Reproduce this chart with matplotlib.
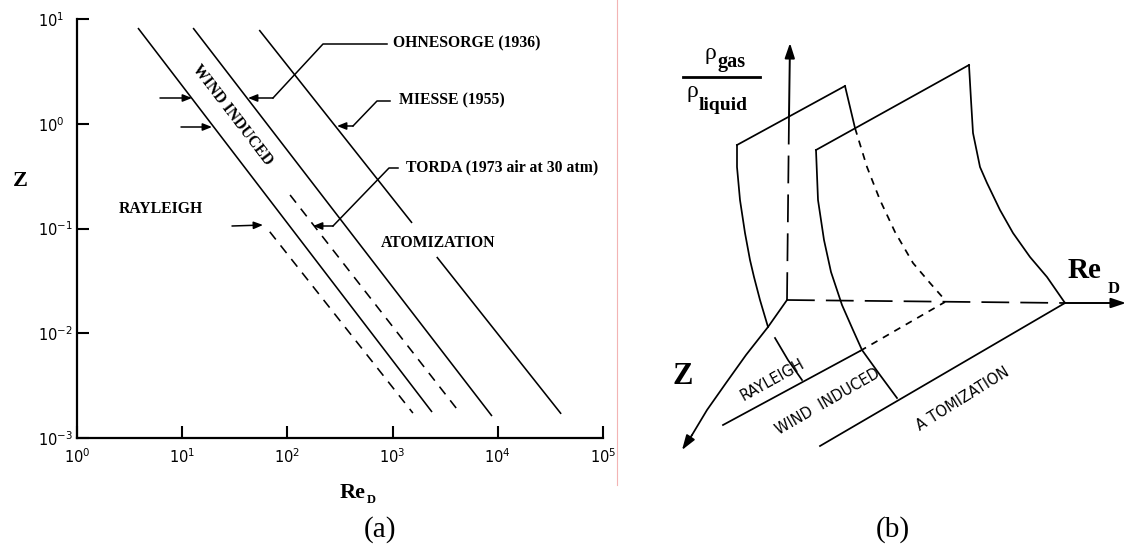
import matplotlib
matplotlib.use('Agg')
import matplotlib.pyplot as plt

plt.rcParams['lines.scale_dashes'] = False
plt.rcParams['font.family'] = ['DejaVu Sans']

# ---------------- panel (a): breakup regimes, Z vs Re_D (log-log) ----------------
re_ticks = [1e0, 1e1, 1e2, 1e3, 1e4, 1e5]
z_ticks = [1e-3, 1e-2, 1e-1, 1e0, 1e1]

# Rayleigh / wind induced boundary (left solid line)
rayleigh_re = [3.8, 2370]
rayleigh_z = [8.2, 1.77e-3]
# Ohnesorge (1936) line
ohnesorge_re = [12.7, 8800]
ohnesorge_z = [8.2, 1.62e-3]
# Miesse (1955) line, broken where the ATOMIZATION label sits
miesse_re_top = [54, 1530]
miesse_z_top = [7.85, 0.113]
miesse_re_low = [2630, 40000]
miesse_z_low = [0.0535, 1.70e-3]
# Torda (1973, air at 30 atm) dashed lines
torda_left_re = [68, 1560]
torda_left_z = [0.093, 1.73e-3]
torda_right_re = [106, 4380]
torda_right_z = [0.209, 1.73e-3]

# ---------------- panel (b): 3-D sketch, points in figure pixels ----------------
vaxis_hidden_x, vaxis_hidden_y = [787, 789], [300, 116]
vaxis_top_x, vaxis_top_y = [789, 790], [116, 43]
reaxis_hidden_x, reaxis_hidden_y = [787, 1065], [300, 303]
reaxis_tip_x, reaxis_tip_y = [1065, 1126], [303, 303]
zaxis_x = [787, 768, 746, 726, 707, 692, 682]
zaxis_y = [300, 327, 355, 383, 410, 435, 450]

s1_top_x, s1_top_y = [737, 845], [145, 86]
s1_right_x, s1_right_y = [845, 855], [86, 128]
s1_hidden_x = [855, 867, 880, 895, 913, 930, 945]
s1_hidden_y = [128, 167, 200, 232, 263, 283, 300]
s1_left_x = [737, 737, 740, 745, 750, 754, 760, 768]
s1_left_y = [145, 167, 200, 233, 260, 277, 300, 327]
s1_left_low_x, s1_left_low_y = [775, 788, 802], [338, 360, 380]
s1_base_x, s1_base_y = [723, 860], [425, 351]
s1_base_hidden_x, s1_base_hidden_y = [860, 945], [351, 302]

s2_top_x, s2_top_y = [816, 969], [150, 65]
s2_right_x = [969, 971, 973, 980, 987, 1000, 1013, 1030, 1047, 1065]
s2_right_y = [65, 100, 133, 167, 183, 210, 233, 257, 277, 303]
s2_left_x = [816, 818, 824, 831, 842, 853, 862, 880, 897]
s2_left_y = [150, 200, 240, 272, 305, 330, 350, 375, 398]
s2_base_x, s2_base_y = [820, 1065], [446, 303]

serif = 'Liberation Serif'
W, H = 1128, 547

fig = plt.figure(figsize=(W / 100, H / 100), dpi=100)
fig.patch.set_facecolor('white')

# ---- panel (a) axes
ax = fig.add_axes([77 / W, 1 - 438 / H, 526 / W, 419 / H])
ax.set_xscale('log')
ax.set_yscale('log')
ax.set_xlim(1, 1e5)
ax.set_ylim(1e-3, 10)
for s in ['top', 'right']:
    ax.spines[s].set_visible(False)
for s in ['left', 'bottom']:
    ax.spines[s].set_linewidth(1.6)
ax.set_xticks(re_ticks)
ax.set_yticks(z_ticks)
ax.minorticks_off()
ax.tick_params(which='major', direction='in', length=8.5, width=1.5, labelsize=10.5)
ax.tick_params(axis='x', pad=7)
ax.tick_params(axis='y', pad=28)
for lab in ax.get_yticklabels():
    lab.set_horizontalalignment('left')

kw = dict(color='black', lw=1.15, solid_capstyle='butt')
ax.plot(rayleigh_re, rayleigh_z, **kw)
ax.plot(ohnesorge_re, ohnesorge_z, **kw)
ax.plot(miesse_re_top, miesse_z_top, **kw)
ax.plot(miesse_re_low, miesse_z_low, **kw)
ax.plot(torda_left_re, torda_left_z, dashes=(7, 5.5), **kw)
ax.plot(torda_right_re, torda_right_z, dashes=(7, 5.5), **kw)

# ---- overlay in pixel units for labels, leaders and panel (b)
ov = fig.add_axes([0, 0, 1, 1])
ov.set_xlim(0, W)
ov.set_ylim(H, 0)
ov.axis('off')

# separator
ov.plot([617, 617], [0, 485], color='#f3b4b4', lw=0.8)


def arrow(x0, y0, x1, y1, hl=0.55, hw=0.22, lw=1.1):
    ov.annotate('', xy=(x1, y1), xytext=(x0, y0),
                arrowprops=dict(arrowstyle='-|>,head_length=%s,head_width=%s' % (hl, hw),
                                color='black', lw=lw, shrinkA=0, shrinkB=0))


# leaders in panel (a)
arrow(160, 98, 192, 98)
arrow(181, 127, 212, 127)
arrow(232, 226, 263, 225)
ov.plot([387, 323, 273], [44, 44, 98], color='black', lw=1.1)
arrow(273, 98, 248, 98)
ov.plot([390, 377, 353], [101, 101, 126], color='black', lw=1.1)
arrow(353, 126, 337, 126)
ov.plot([398, 389, 333], [168, 168, 226], color='black', lw=1.1)
arrow(333, 226, 313, 226)

tb = dict(family=serif, fontweight='bold', fontsize=11.3, color='black')
ov.text(393, 43, 'OHNESORGE (1936)', ha='left', va='center', **tb)
ov.text(399, 100, 'MIESSE (1955)', ha='left', va='center', **tb)
ov.text(406, 167, 'TORDA (1973 air at 30 atm)', ha='left', va='center', **tb)
ov.text(381, 243, 'ATOMIZATION', ha='left', va='center', **tb)
ov.text(119, 209, 'RAYLEIGH', ha='left', va='center', **tb)
ov.text(232, 115, 'WIND INDUCED', ha='center', va='center', rotation=-52.6,
        rotation_mode='anchor', **tb)
ov.text(20, 181, 'Z', ha='center', va='center', family=serif, fontweight='bold', fontsize=16)
ov.text(340, 498, 'Re', ha='left', va='baseline', family=serif, fontweight='bold', fontsize=16)
ov.text(367, 503, 'D', ha='left', va='baseline', family=serif, fontweight='bold', fontsize=9)
ov.text(380, 530, '(a)', ha='center', va='center', family=serif, fontsize=21)

# ---- panel (b)
lk = dict(color='black', lw=1.25)
long_dash = (20, 8)
short_dash = (5, 4.5)
ov.plot(vaxis_hidden_x, vaxis_hidden_y, dashes=long_dash, **lk)
arrow(vaxis_top_x[0], vaxis_top_y[0], vaxis_top_x[1], vaxis_top_y[1], hl=0.9, hw=0.3, lw=1.4)
ov.plot(reaxis_hidden_x, reaxis_hidden_y, dashes=long_dash, **lk)
arrow(reaxis_tip_x[0], reaxis_tip_y[0], reaxis_tip_x[1], reaxis_tip_y[1], hl=0.9, hw=0.3, lw=1.4)
ov.plot(zaxis_x[:-1], zaxis_y[:-1], **lk)
arrow(zaxis_x[-2], zaxis_y[-2], zaxis_x[-1], zaxis_y[-1], hl=0.9, hw=0.3, lw=1.25)

ov.plot(s1_top_x, s1_top_y, **lk)
ov.plot(s1_right_x, s1_right_y, **lk)
ov.plot(s1_hidden_x, s1_hidden_y, dashes=short_dash, **lk)
ov.plot(s1_left_x, s1_left_y, **lk)
ov.plot(s1_left_low_x, s1_left_low_y, **lk)
ov.plot(s1_base_x, s1_base_y, **lk)
ov.plot(s1_base_hidden_x, s1_base_hidden_y, dashes=short_dash, **lk)

ov.plot(s2_top_x, s2_top_y, **lk)
ov.plot(s2_right_x, s2_right_y, **lk)
ov.plot(s2_left_x, s2_left_y, **lk)
ov.plot(s2_base_x, s2_base_y, **lk)

sk = dict(family='DejaVu Sans', fontsize=10.5, color='black', ha='center', va='center',
          rotation_mode='anchor')
ov.text(772, 380, 'RAYLEIGH', rotation=29, **sk)
ov.text(828, 402, 'WIND  INDUCED', rotation=30, **sk)
ov.text(963, 399, 'A TOMIZATION', rotation=32, **sk)

ov.text(683, 377, 'Z', ha='center', va='center', family=serif, fontweight='bold', fontsize=22)
ov.text(1068, 278, 'Re', ha='left', va='baseline', family=serif, fontweight='bold', fontsize=21)
ov.text(1108, 293, 'D', ha='left', va='baseline', family=serif, fontweight='bold', fontsize=12)

# density ratio label
ov.plot([683, 760], [77, 77], color='black', lw=2.0)
ov.text(704, 59, '\u03c1', ha='left', va='baseline', family=serif, fontsize=17)
ov.text(717, 67, 'gas', ha='left', va='baseline', family=serif, fontweight='bold', fontsize=14.5)
ov.text(686, 97, '\u03c1', ha='left', va='baseline', family=serif, fontsize=17)
ov.text(699, 110, 'liquid', ha='left', va='baseline', family=serif, fontweight='bold', fontsize=14)

ov.text(893, 530, '(b)', ha='center', va='center', family=serif, fontsize=21)

fig.savefig('out.png', dpi=100, facecolor='white')
